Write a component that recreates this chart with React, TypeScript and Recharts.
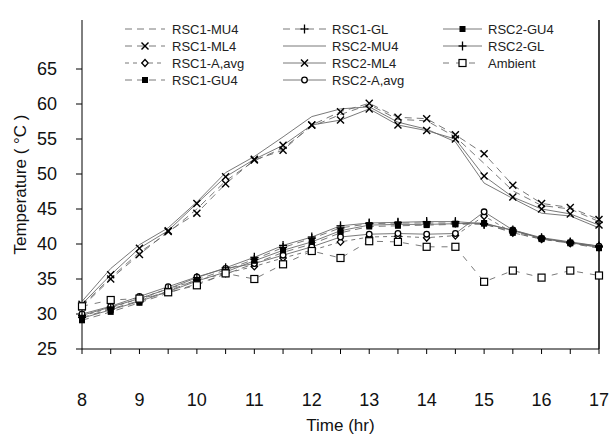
import React from 'react';
import { LineChart, Line, XAxis, YAxis, Legend, ReferenceLine } from 'recharts';

const hours = [8, 8.5, 9, 9.5, 10, 10.5, 11, 11.5, 12, 12.5, 13, 13.5, 14, 14.5, 15, 15.5, 16, 16.5, 17];

const rsc1Mu4 = [31.2, 35.2, 38.8, 41.6, 45.0, 49.0, 51.9, 53.7, 56.8, 58.5, 59.9, 57.8, 57.6, 55.3, 51.5, 47.6, 45.5, 45.0, 43.2];
const rsc1Ml4 = [31.0, 35.0, 38.5, 41.8, 44.4, 48.6, 52.0, 53.4, 57.0, 58.9, 60.1, 58.1, 57.9, 55.6, 52.9, 48.4, 45.8, 45.2, 43.5];
const rsc1Aavg = [29.7, 30.9, 32.2, 33.6, 34.8, 35.8, 36.8, 38.0, 39.1, 40.3, 41.0, 41.1, 40.9, 41.2, 44.0, 41.6, 40.7, 40.1, 39.6];
const rsc1Gu4 = [29.1, 30.3, 31.6, 33.0, 34.3, 35.7, 37.2, 38.8, 40.0, 41.6, 42.5, 42.6, 42.7, 42.8, 42.9, 41.6, 40.7, 40.1, 39.4];
const rsc1Gl = [29.5, 30.7, 31.9, 33.3, 34.9, 36.3, 37.8, 39.5, 40.8, 42.3, 42.9, 43.0, 43.0, 43.0, 42.8, 41.8, 40.8, 40.2, 39.6];
const rsc2Mu4 = [31.8, 36.5, 39.9, 42.3, 46.0, 50.2, 52.5, 55.3, 58.2, 59.3, 59.6, 57.4, 56.4, 54.6, 48.7, 46.5, 44.4, 44.0, 42.3];
const rsc2Ml4 = [31.4, 35.6, 39.4, 41.9, 45.8, 49.6, 52.1, 54.1, 57.0, 57.7, 59.3, 57.0, 56.2, 55.0, 49.7, 46.7, 45.0, 44.3, 42.7];
const rsc2Aavg = [30.0, 31.1, 32.5, 33.9, 35.3, 36.5, 37.2, 38.4, 39.6, 41.0, 41.4, 41.5, 41.4, 41.5, 44.6, 42.0, 40.8, 40.2, 39.7];
const rsc2Gu4 = [29.4, 30.6, 31.8, 33.2, 34.7, 36.0, 37.6, 39.1, 40.3, 41.9, 42.7, 42.8, 42.8, 42.9, 43.0, 41.9, 40.8, 40.2, 39.5];
const rsc2Gl = [29.8, 31.0, 32.2, 33.6, 35.2, 36.6, 38.1, 39.8, 41.0, 42.6, 43.0, 43.1, 43.2, 43.2, 42.9, 42.0, 40.9, 40.3, 39.7];
const ambient = [31.1, 32.0, 32.2, 33.1, 34.1, 35.8, 35.0, 37.1, 39.0, 38.0, 40.4, 40.3, 39.6, 39.6, 34.6, 36.2, 35.2, 36.2, 35.5];

const xTicks = [8, 8.5, 9, 9.5, 10, 10.5, 11, 11.5, 12, 12.5, 13, 13.5, 14, 14.5, 15, 15.5, 16, 16.5, 17];
const yTicks = [25, 30, 35, 40, 45, 50, 55, 60, 65];

const FONT = '"Liberation Sans", Arial, sans-serif';
const LINE = '#6a6a6a';

type Marker = 'none' | 'cross' | 'plus' | 'circle' | 'diamond' | 'square' | 'openSquare';

const series = [
  { key: 'rsc1Mu4', name: 'RSC1-MU4', values: rsc1Mu4, dash: '7 5', marker: 'none' as Marker },
  { key: 'rsc1Ml4', name: 'RSC1-ML4', values: rsc1Ml4, dash: '7 5', marker: 'cross' as Marker },
  { key: 'rsc1Aavg', name: 'RSC1-A,avg', values: rsc1Aavg, dash: '4 4', marker: 'diamond' as Marker },
  { key: 'rsc1Gu4', name: 'RSC1-GU4', values: rsc1Gu4, dash: '7 5', marker: 'square' as Marker },
  { key: 'rsc1Gl', name: 'RSC1-GL', values: rsc1Gl, dash: '7 5', marker: 'plus' as Marker },
  { key: 'rsc2Mu4', name: 'RSC2-MU4', values: rsc2Mu4, dash: undefined, marker: 'none' as Marker },
  { key: 'rsc2Ml4', name: 'RSC2-ML4', values: rsc2Ml4, dash: undefined, marker: 'cross' as Marker },
  { key: 'rsc2Aavg', name: 'RSC2-A,avg', values: rsc2Aavg, dash: undefined, marker: 'circle' as Marker },
  { key: 'rsc2Gu4', name: 'RSC2-GU4', values: rsc2Gu4, dash: undefined, marker: 'square' as Marker },
  { key: 'rsc2Gl', name: 'RSC2-GL', values: rsc2Gl, dash: undefined, marker: 'plus' as Marker },
  { key: 'ambient', name: 'Ambient', values: ambient, dash: '6 7', marker: 'openSquare' as Marker },
];

const data = hours.map((t, i) => {
  const row: Record<string, number> = { t };
  series.forEach((s) => {
    row[s.key] = s.values[i];
  });
  return row;
});

// small black symbols like the scanned figure
const drawMarker = (type: Marker, cx: number, cy: number) => {
  switch (type) {
    case 'cross':
      return (
        <g stroke="#000" strokeWidth={1.4}>
          <line x1={cx - 3.5} y1={cy - 3.5} x2={cx + 3.5} y2={cy + 3.5} />
          <line x1={cx - 3.5} y1={cy + 3.5} x2={cx + 3.5} y2={cy - 3.5} />
        </g>
      );
    case 'plus':
      return (
        <g stroke="#000" strokeWidth={1.3}>
          <line x1={cx - 4} y1={cy} x2={cx + 4} y2={cy} />
          <line x1={cx} y1={cy - 4.5} x2={cx} y2={cy + 4.5} />
        </g>
      );
    case 'circle':
      return <circle cx={cx} cy={cy} r={2.8} fill="#fff" stroke="#000" strokeWidth={1.3} />;
    case 'diamond':
      return (
        <polygon
          points={`${cx},${cy - 3.5} ${cx + 3.2},${cy} ${cx},${cy + 3.5} ${cx - 3.2},${cy}`}
          fill="#fff"
          stroke="#000"
          strokeWidth={1.3}
        />
      );
    case 'square':
      return <rect x={cx - 3} y={cy - 3} width={6} height={6} fill="#000" />;
    case 'openSquare':
      return <rect x={cx - 3.5} y={cy - 3.5} width={7} height={7} fill="#fff" stroke="#000" strokeWidth={1.2} />;
    default:
      return null;
  }
};

const legendCols = [
  { lineX: 125, lineEnd: 165, textX: 172 },
  { lineX: 283, lineEnd: 326, textX: 332 },
  { lineX: 443, lineEnd: 482, textX: 488 },
];
const legendRows = [29, 46, 63, 80];

const LegendBox = () => (
  <svg width={611} height={100}>
    {series.map((s, i) => {
      const col = legendCols[Math.floor(i / 4)];
      const y = legendRows[i % 4];
      const mid = (col.lineX + col.lineEnd) / 2;
      return (
        <g key={s.key}>
          <line x1={col.lineX} y1={y} x2={col.lineEnd} y2={y} stroke={LINE} strokeWidth={0.9} strokeDasharray={s.dash} />
          {drawMarker(s.marker, mid, y)}
          <text x={col.textX} y={y + 4.5} fontSize={13} fontFamily={FONT} fill="#222">
            {s.name}
          </text>
        </g>
      );
    })}
  </svg>
);

export default function App() {
  return (
    <div style={{ position: 'absolute', left: 0, top: 0, width: 611, height: 436, background: '#fff' }}>
      <LineChart width={611} height={436} data={data} margin={{ top: 20, right: 12, bottom: 0, left: 0 }}>
        <XAxis
          dataKey="t"
          type="number"
          domain={[8, 17]}
          ticks={xTicks}
          interval={0}
          height={87}
          stroke="#000"
          tickSize={5}
          tickMargin={39}
          tickFormatter={(v: number) => (Number.isInteger(v) ? String(v) : '')}
          tick={{ fontSize: 18, fontFamily: FONT, fill: '#111' }}
          label={{ value: 'Time (hr)', position: 'insideBottom', offset: 5, fontSize: 17, fontFamily: FONT, fill: '#111' }}
        />
        <YAxis
          type="number"
          domain={[25, 72]}
          ticks={yTicks}
          interval={0}
          width={82}
          stroke="#000"
          tickSize={6}
          tickMargin={19}
          tick={{ fontSize: 18, fontFamily: FONT, fill: '#111' }}
          label={{
            value: 'Temperature ( \u00B0C )',
            angle: -90,
            position: 'insideLeft',
            offset: 20,
            fontSize: 17,
            fontFamily: FONT,
            fill: '#111',
            style: { textAnchor: 'middle' },
          }}
        />
        <ReferenceLine x={17} stroke="#000" strokeWidth={1.5} />
        {series.map((s) => (
          <Line
            key={s.key}
            dataKey={s.key}
            name={s.name}
            stroke={LINE}
            strokeWidth={0.9}
            strokeDasharray={s.dash}
            isAnimationActive={false}
            dot={(p: any) => <g key={`${s.key}-${p.index}`}>{drawMarker(s.marker, p.cx, p.cy)}</g>}
            activeDot={false}
          />
        ))}
        <Legend
          layout="horizontal"
          verticalAlign="middle"
          align="center"
          wrapperStyle={{ top: 0, left: 0, width: 611, height: 100 }}
          content={() => <LegendBox />}
        />
      </LineChart>
    </div>
  );
}
